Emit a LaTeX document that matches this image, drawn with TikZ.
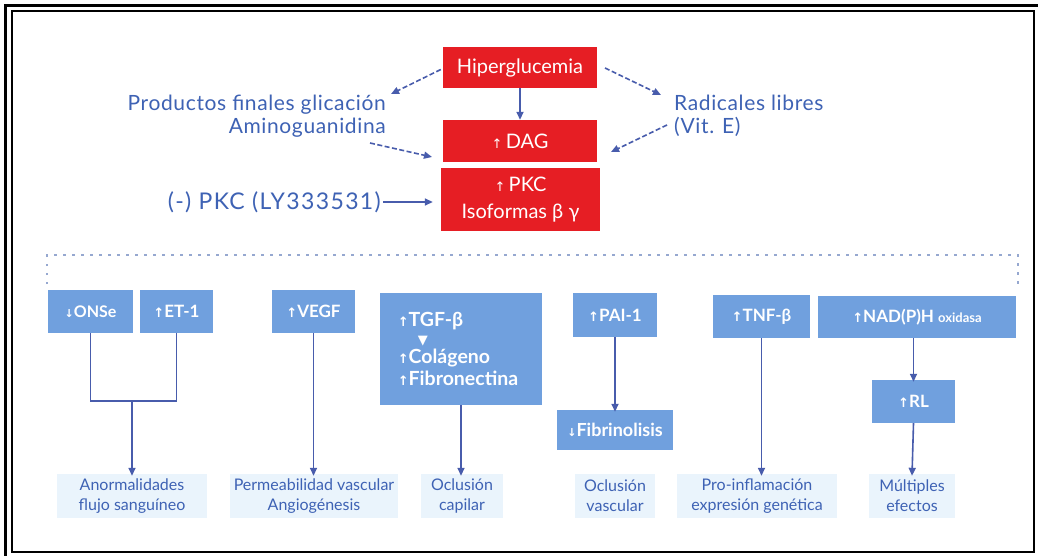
\documentclass[tikz,border=0pt]{standalone}
\usepackage{fontspec}
\setmainfont{Lato}
\newfontfamily\arr{DejaVu Sans}
\usetikzlibrary{arrows.meta}
\definecolor{redfill}{RGB}{230,30,36}
\definecolor{bluefill}{RGB}{112,160,222}
\definecolor{txtblue}{RGB}{62,98,180}
\definecolor{lineblue}{RGB}{72,92,172}
\definecolor{palefill}{RGB}{234,244,252}
\definecolor{dotcol}{RGB}{150,168,208}
\newcommand{\up}{{\arr\fontsize{13}{13}\selectfont ↑}}
\newcommand{\dn}{{\arr\fontsize{11}{11}\selectfont ↓}}
\begin{document}
\begin{tikzpicture}[x=1pt,y=-1pt,
  redn/.style={fill=redfill, text=white, font=\fontsize{20}{27}\selectfont, inner sep=0pt, align=center},
  bluen/.style={fill=bluefill, text=white, font=\fontsize{17}{20}\selectfont\bfseries, inner sep=0pt, align=center},
  paln/.style={fill=palefill, text=txtblue, font=\fontsize{16}{20}\selectfont, inner sep=0pt, align=center},
  lbl/.style={text=txtblue, font=\fontsize{21}{23}\selectfont\addfontfeature{LetterSpace=3}, inner sep=0pt},
  dasharr/.style={draw=lineblue, line width=1.6pt, dash pattern=on 5pt off 2.5pt, -{Triangle[length=8pt,width=7pt]}},
  solarr/.style={draw=lineblue, line width=1.6pt, -{Triangle[length=8pt,width=7pt]}},
  conn/.style={draw=lineblue, line width=1.6pt},
  dotline/.style={draw=dotcol, line width=2.5pt, dash pattern=on 2.5pt off 6.5pt}
]
\fill[white] (0,0) rectangle (1038,556);
\useasboundingbox (0,0) rectangle (1038,556);
% frame
\draw[line width=3pt] (5.5,556) -- (5.5,5.5) -- (1038,5.5);
\draw[line width=2pt] (12,11.5) rectangle (1034,552);

% top red boxes
\node[redn, minimum width=154pt, minimum height=41pt] (hip) at (520,67.5) {Hiperglucemia};
\node[redn, minimum width=154pt, minimum height=42pt] (dag) at (520,141) {\up\,DAG};
\node[redn, minimum width=159pt, minimum height=63pt] (pkc) at (520.5,199.5) {\up\,PKC\\Isoformas β γ};

% side labels
\node[lbl, anchor=east, align=right] (prod) at (386,116) {Productos finales glicación\\Aminoguanidina};
\node[lbl, anchor=east, font=\fontsize{23}{25}\selectfont\addfontfeature{LetterSpace=6}] (inh) at (381,202) {(-) PKC (LY333531)};
\node[lbl, anchor=west, align=left] (rad) at (674,116) {Radicales libres\\(Vit. E)};

\coordinate (p1) at (391,94);
\coordinate (p2) at (370,143);
\coordinate (p3) at (432,157);
\coordinate (p4) at (605,68);
\coordinate (p5) at (661,95);
\coordinate (p6) at (667,125);
\coordinate (p7) at (611,152);

\draw[dasharr] (hip.west) ++(-2,2) -- (p1);
\draw[dasharr] (p2) -- (p3);
\draw[dasharr] (p4) -- (p5);
\draw[dasharr] (p6) -- (p7);
\draw[solarr] (hip.south) -- (dag.north);
\draw[solarr] (inh.east) ++(2,0) -- ([xshift=-8pt]pkc.west |- inh.east);

% dotted bracket
\draw[dotline] (47,284) -- (47,255) -- (1018,255) -- (1018,284);

% blue boxes
\node[bluen, minimum width=85pt, minimum height=43pt, font=\fontsize{16}{18}\selectfont\bfseries] (onse) at (90.5,311.5) {\dn ONSe};
\node[bluen, minimum width=73pt, minimum height=43pt] (et1) at (176.5,311.5) {\up ET-1};
\node[bluen, minimum width=83pt, minimum height=43pt] (vegf) at (313.5,311.5) {\up VEGF};
\node[bluen, minimum width=162pt, minimum height=112pt, align=left, font=\fontsize{19.5}{22}\selectfont\bfseries] (tgf) at (461,349) {\up TGF-β\\[-4pt]\hspace*{20pt}{\arr\fontsize{13}{13}\selectfont ▼}\\[-3pt]\up Colágeno\\\up Fibronectina\hspace*{6pt}};
\node[bluen, minimum width=84pt, minimum height=44pt] (pai) at (615,315) {\up PAI-1};
\node[bluen, minimum width=116pt, minimum height=40pt, font=\fontsize{18}{20}\selectfont\bfseries] (fib) at (615,430) {\dn Fibrinolisis};
\node[bluen, minimum width=97pt, minimum height=43pt] (tnf) at (761.5,316.5) {\up TNF-β};
\node[bluen, minimum width=198pt, minimum height=42pt] (nad) at (917,317) {\up NAD(P)H {\fontsize{13}{15}\selectfont oxidasa}};
\node[bluen, minimum width=83pt, minimum height=43pt] (rl) at (913.5,401.5) {\up RL};

% bottom labels
\node[paln, minimum width=150pt, minimum height=44pt] (an) at (132,496) {Anormalidades\\flujo sanguíneo};
\node[paln, minimum width=168pt, minimum height=44pt] (perm) at (314,496) {Permeabilidad vascular\\Angiogénesis};
\node[paln, minimum width=82pt, minimum height=44pt] (ocap) at (462,496) {Oclusión\\capilar};
\node[paln, minimum width=80pt, minimum height=44pt] (ovas) at (615,496) {Oclusión\\vascular};
\node[paln, minimum width=160pt, minimum height=44pt] (pro) at (757,496) {Pro-inflamación\\expresión genética};
\node[paln, minimum width=86pt, minimum height=44pt] (mult) at (912,496) {Múltiples\\efectos};

% connectors
\coordinate (jn) at (132,401);
\draw[conn] (onse.south) |- (jn) -| (et1.south);
\draw[solarr] (jn) -- ([yshift=-2pt]an.north);
\draw[solarr] (vegf.south) -- ([yshift=-2pt]vegf.south |- perm.north);
\draw[solarr] (tgf.south) -- ([yshift=-2pt]tgf.south |- ocap.north);
\draw[solarr] (pai.south) -- ([yshift=-2pt]fib.north);
\draw[solarr] (tnf.south) -- ([yshift=-2pt]tnf.south |- pro.north);
\draw[solarr] (rl.north |- nad.south) -- ([yshift=-2pt]rl.north);
\draw[solarr] (rl.south) -- ([yshift=-2pt]mult.north);
\end{tikzpicture}
\end{document}
